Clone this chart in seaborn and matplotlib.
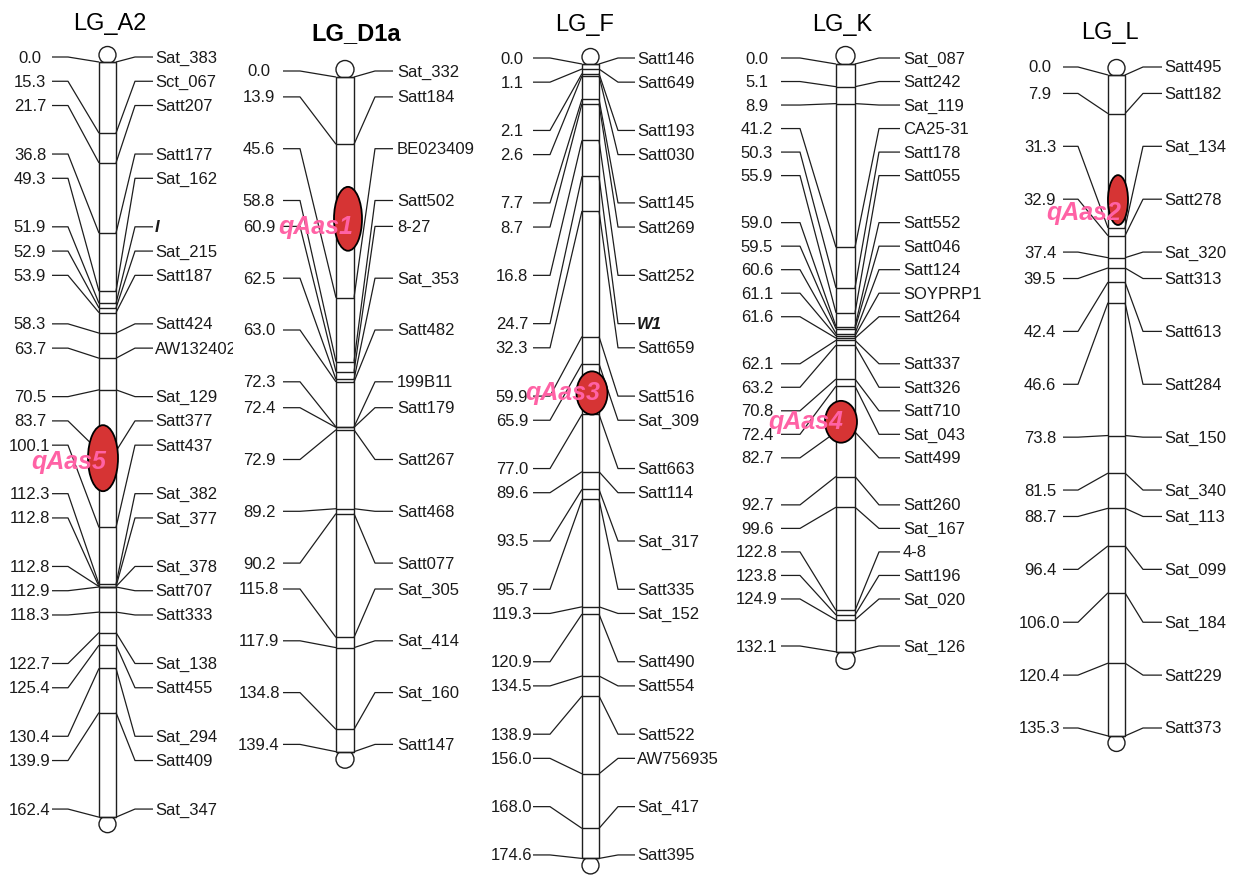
import matplotlib
matplotlib.use("Agg")
import matplotlib.pyplot as plt
from matplotlib.patches import Ellipse, Rectangle
from matplotlib.collections import LineCollection
from matplotlib.transforms import Bbox
import seaborn as sns

# ---------------- data ----------------
groups = ["LG_A2", "LG_D1a", "LG_F", "LG_K", "LG_L"]

A2_markers = ["Sat_383", "Sct_067", "Satt207", "Satt177", "Sat_162", "I", "Sat_215", "Satt187",
              "Satt424", "AW132402", "Sat_129", "Satt377", "Satt437", "Sat_382", "Sat_377",
              "Sat_378", "Satt707", "Satt333", "Sat_138", "Satt455", "Sat_294", "Satt409", "Sat_347"]
A2_cm = [0.0, 15.3, 21.7, 36.8, 49.3, 51.9, 52.9, 53.9, 58.3, 63.7, 70.5, 83.7, 100.1, 112.3,
         112.8, 112.8, 112.9, 118.3, 122.7, 125.4, 130.4, 139.9, 162.4]

D1a_markers = ["Sat_332", "Satt184", "BE023409", "Satt502", "8-27", "Sat_353", "Satt482", "199B11",
               "Satt179", "Satt267", "Satt468", "Satt077", "Sat_305", "Sat_414", "Sat_160", "Satt147"]
D1a_cm = [0.0, 13.9, 45.6, 58.8, 60.9, 62.5, 63.0, 72.3, 72.4, 72.9, 89.2, 90.2, 115.8, 117.9,
          134.8, 139.4]

F_markers = ["Satt146", "Satt649", "Satt193", "Satt030", "Satt145", "Satt269", "Satt252", "W1",
             "Satt659", "Satt516", "Sat_309", "Satt663", "Satt114", "Sat_317", "Satt335", "Sat_152",
             "Satt490", "Satt554", "Satt522", "AW756935", "Sat_417", "Satt395"]
F_cm = [0.0, 1.1, 2.1, 2.6, 7.7, 8.7, 16.8, 24.7, 32.3, 59.9, 65.9, 77.0, 89.6, 93.5, 95.7, 119.3,
        120.9, 134.5, 138.9, 156.0, 168.0, 174.6]

K_markers = ["Sat_087", "Satt242", "Sat_119", "CA25-31", "Satt178", "Satt055", "Satt552", "Satt046",
             "Satt124", "SOYPRP1", "Satt264", "Satt337", "Satt326", "Satt710", "Sat_043", "Satt499",
             "Satt260", "Sat_167", "4-8", "Satt196", "Sat_020", "Sat_126"]
K_cm = [0.0, 5.1, 8.9, 41.2, 50.3, 55.9, 59.0, 59.5, 60.6, 61.1, 61.6, 62.1, 63.2, 70.8, 72.4, 82.7,
        92.7, 99.6, 122.8, 123.8, 124.9, 132.1]

L_markers = ["Satt495", "Satt182", "Sat_134", "Satt278", "Sat_320", "Satt313", "Satt613", "Satt284",
             "Sat_150", "Sat_340", "Sat_113", "Sat_099", "Sat_184", "Satt229", "Satt373"]
L_cm = [0.0, 7.9, 31.3, 32.9, 37.4, 39.5, 42.4, 46.6, 73.8, 81.5, 88.7, 96.4, 106.0, 120.4, 135.3]

# QTL intervals (cM centre, cM span) and names
qtl_names = ["qAas5", "qAas1", "qAas3", "qAas4", "qAas2"]
qtl_center = [85.2, 29.3, 72.3, 80.4, 25.6]
qtl_span = [14.2, 13.2, 9.5, 9.4, 10.2]

italic_markers = ["I", "W1"]

# ---------------- layout (label rows, geometry) ----------------
A2_slots = [0, 1, 2, 4, 5, 7, 8, 9, 11, 12, 14, 15, 16, 18, 19, 21, 22, 23, 25, 26, 28, 29, 31]
D1a_slots = [0, 1, 3, 5, 6, 8, 10, 12, 13, 15, 17, 19, 20, 22, 24, 26]
F_slots = [0, 1, 3, 4, 6, 7, 9, 11, 12, 14, 15, 17, 18, 20, 22, 23, 25, 26, 28, 29, 31, 33]
K_slots = [0, 1, 2, 3, 4, 5, 7, 8, 9, 10, 11, 13, 14, 15, 16, 17, 19, 20, 21, 22, 23, 25]
L_slots = [0, 1, 3, 5, 7, 8, 10, 12, 14, 16, 17, 19, 21, 23, 25]

layout = [
    dict(cx=107.5, w=17, top=63, s=4.65, lt=58, step=24.26, dl=31, hl=16, tcl=22, dr=19, hr=18, tgr=2,
         qw=30, qdx=-4.5, qlx=-38.5, qly=85.8, tdx=2.5, ty=24, bold=False),
    dict(cx=345, w=18, top=78, s=4.84, lt=72, step=25.9, dl=36, hl=17, tcl=24, dr=21, hr=18, tgr=4,
         qw=28, qdx=3, qlx=-29, qly=30.8, tdx=11, ty=34, bold=True),
    dict(cx=590.5, w=17, top=65, s=4.55, lt=59, step=24.15, dl=32, hl=17, tcl=21, dr=19, hr=17, tgr=2,
         qw=31, qdx=1.5, qlx=-27.5, qly=72.1, tdx=-5.5, ty=25, bold=False),
    dict(cx=845.5, w=19, top=65, s=4.45, lt=59, step=23.52, dl=36, hl=19, tcl=24, dr=24, hr=21, tgr=3,
         qw=32, qdx=-4.5, qlx=-39.5, qly=80.2, tdx=-3.5, ty=25, bold=False),
    dict(cx=1116.5, w=17, top=76, s=4.885, lt=68, step=26.44, dl=30, hl=15, tcl=23, dr=18, hr=19, tgr=2,
         qw=20, qdx=1.5, qlx=-32.5, qly=28.0, tdx=-6.5, ty=33, bold=False),
]

all_markers = [A2_markers, D1a_markers, F_markers, K_markers, L_markers]
all_cm = [A2_cm, D1a_cm, F_cm, K_cm, L_cm]
all_slots = [A2_slots, D1a_slots, F_slots, K_slots, L_slots]

W_PX, H_PX = 1233, 878
sns.set_theme(style="white")
plt.rcParams["font.family"] = ["Liberation Sans", "DejaVu Sans"]

fig = plt.figure(figsize=(W_PX / 100, H_PX / 100), dpi=100)
fig.patch.set_facecolor("white")

LINE = "#1e1e1e"
TXT = "#1a1a1a"
RED = "#D63434"
PINK = "#FF62A5"
FS = 12

for gi, g in enumerate(groups):
    L = layout[gi]
    names, cms, slots = all_markers[gi], all_cm[gi], all_slots[gi]
    s, top = L["s"], L["top"]
    ax = fig.add_axes([0, 0, 1, 1])
    ax.set_xlim(0, W_PX)
    ax.set_ylim((H_PX - top) / s, -top / s)   # y in cM
    ax.axis("off")
    ax.patch.set_alpha(0)

    cx, w = L["cx"], L["w"]
    xl, xr = cx - w / 2, cx + w / 2
    length = max(cms)
    r_cm = (w / 2) / s

    # end caps
    for yc in (-r_cm + 1.5 / s, length + r_cm - 1.5 / s):
        ax.add_patch(Ellipse((cx, yc), w, w / s, facecolor="white", edgecolor=LINE, lw=1.0, zorder=1))
    # bar
    ax.add_patch(Rectangle((xl, 0), w, length, facecolor="white", edgecolor=LINE, lw=1.0, zorder=2))

    # ticks across bar
    ticks = [[(xl, c), (xr, c)] for c in cms]
    ax.add_collection(LineCollection(ticks, colors=LINE, linewidths=1.0, zorder=3))

    # connectors and labels
    segs = []
    el, er = xl - L["dl"], xr + L["dr"]
    endl, endr = el - L["hl"], er + L["hr"]
    for nm, c, sl in zip(names, cms, slots):
        ly = (L["lt"] + sl * L["step"] - top) / s
        segs.append([(endl, ly), (el, ly), (xl, c)])
        segs.append([(xr, c), (er, ly), (endr, ly)])
        ax.text(endl - L["tcl"], ly, f"{c:.1f}", ha="center", va="center", fontsize=FS,
                color=TXT, zorder=5)
        if nm in italic_markers:
            t = ax.text(endr + L["tgr"], ly, nm, ha="left", va="center", fontsize=FS,
                        style="italic", fontweight="bold", color=TXT, zorder=5)
        else:
            t = ax.text(endr + L["tgr"], ly, nm, ha="left", va="center", fontsize=FS,
                        color=TXT, zorder=5)
        if gi == 0:
            t.set_clip_on(True)
            t.set_clip_box(Bbox.from_extents(0, 0, 233, H_PX))
    ax.add_collection(LineCollection(segs, colors=LINE, linewidths=0.9, zorder=3))

    # QTL ellipse and name
    ax.add_patch(Ellipse((cx + L["qdx"], qtl_center[gi]), L["qw"], qtl_span[gi],
                         facecolor=RED, edgecolor="black", lw=1.3, zorder=6))
    ax.text(cx + L["qlx"], L["qly"], qtl_names[gi], ha="center", va="center", fontsize=18,
            style="italic", fontweight="bold", color=PINK, zorder=7)

    # title
    ax.text(cx + L["tdx"], (L["ty"] - top) / s, g, ha="center", va="center", fontsize=17,
            fontweight="bold" if L["bold"] else "normal", color="black", zorder=5)

fig.savefig("out.png", dpi=100, facecolor="white")
